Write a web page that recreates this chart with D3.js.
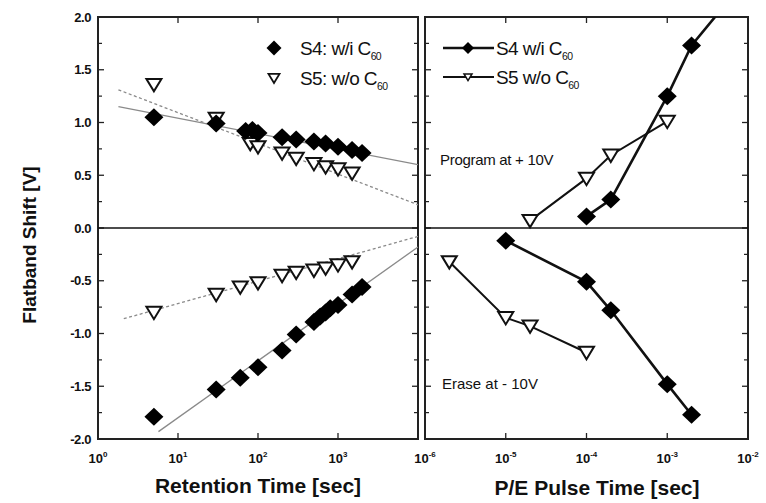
<!DOCTYPE html>
<html><head><meta charset="utf-8">
<script src="https://cdn.jsdelivr.net/npm/d3@7/dist/d3.min.js"></script>
<style>
body{margin:0;background:#fff;}
svg{display:block;font-family:"Liberation Sans",Arial,sans-serif;}
</style></head>
<body><svg id="c" width="766" height="503"></svg>
<script>
// ---- data ----
const retS4UpT = [5, 30, 70, 85, 100, 200, 300, 500, 700, 1000, 1500, 2000];
const retS4UpV = [1.05, 0.99, 0.92, 0.93, 0.90, 0.86, 0.84, 0.82, 0.80, 0.77, 0.74, 0.71];
const retS5UpT = [5, 30, 80, 100, 200, 300, 500, 700, 1000, 1500];
const retS5UpV = [1.36, 1.04, 0.80, 0.77, 0.71, 0.66, 0.61, 0.58, 0.56, 0.52];
const retS4LowT = [5, 30, 60, 100, 200, 300, 500, 600, 700, 800, 1000, 1500, 2000];
const retS4LowV = [-1.79, -1.53, -1.42, -1.32, -1.16, -1.01, -0.89, -0.84, -0.80, -0.76, -0.73, -0.63, -0.56];
const retS5LowT = [5, 30, 60, 100, 200, 300, 500, 700, 1000, 1500];
const retS5LowV = [-0.80, -0.63, -0.56, -0.52, -0.45, -0.42, -0.40, -0.38, -0.35, -0.32];
// fitted trend lines (end points)
const fitS4UpT = [1.8, 1e4], fitS4UpV = [1.15, 0.60];
const fitS5UpT = [1.8, 1e4], fitS5UpV = [1.31, 0.22];
const fitS4LowT = [5.7, 1e4], fitS4LowV = [-1.93, -0.18];
const fitS5LowT = [2.1, 1e4], fitS5LowV = [-0.86, -0.08];
// P/E pulse
const progS4T = [1e-4, 2e-4, 1e-3, 2e-3, 5e-3];
const progS4V = [0.11, 0.27, 1.25, 1.73, 2.10];
const progS5T = [2e-5, 1e-4, 2e-4, 1e-3];
const progS5V = [0.07, 0.47, 0.69, 1.01];
const eraseS4T = [1e-5, 1e-4, 2e-4, 1e-3, 2e-3];
const eraseS4V = [-0.12, -0.51, -0.78, -1.48, -1.77];
const eraseS5T = [2e-6, 1e-5, 2e-5, 1e-4];
const eraseS5V = [-0.32, -0.85, -0.93, -1.18];
// ticks
const yMajor = [2, 1.5, 1, 0.5, 0, -0.5, -1, -1.5, -2];
const yMajorLabels = ["2.0", "1.5", "1.0", "0.5", "0.0", "-0.5", "-1.0", "-1.5", "-2.0"];
const yMinor = [1.75, 1.25, 0.75, 0.25, -0.25, -0.75, -1.25, -1.75];
const xLTicks = [1, 10, 100, 1000, 10000];
const xLExp = ["0", "1", "2", "3"];
const xRTicks = [1e-6, 1e-5, 1e-4, 1e-3, 1e-2];
const xRExp = ["-6", "-5", "-4", "-3", "-2"];

// ---- layout ----
const svg = d3.select("#c");
const top_ = 17, bot = 439;
const L = {x0: 98, x1: 418}, R = {x0: 425, x1: 748};
const y = d3.scaleLinear([-2, 2], [bot, top_]);
const xL = d3.scaleLog([1, 1e4], [L.x0, L.x1]);
const xR = d3.scaleLog([1e-6, 1e-2], [R.x0, R.x1]);

const defs = svg.append("defs");
defs.append("clipPath").attr("id", "clipL").append("rect")
  .attr("x", L.x0).attr("y", top_).attr("width", L.x1 - L.x0).attr("height", bot - top_);
defs.append("clipPath").attr("id", "clipR").append("rect")
  .attr("x", R.x0).attr("y", top_).attr("width", R.x1 - R.x0).attr("height", bot - top_);

function diamond(w, h) { return `M0,${-h}L${w},0L0,${h}L${-w},0Z`; }
function triDown(s) { return `M${-s},${-s*0.75}L${s},${-s*0.75}L0,${s*0.9}Z`; }

function zip(t, v) { return t.map((d, i) => [d, v[i]]); }

// ---- frames + ticks ----
function panel(P, x, xt) {
  const g = svg.append("g");
  yMajor.forEach(v => {
    g.append("line").attr("x1", P.x0).attr("x2", P.x0 + 6).attr("y1", y(v)).attr("y2", y(v)).attr("stroke", "#222").attr("stroke-width", 1.3);
    g.append("line").attr("x1", P.x1).attr("x2", P.x1 - 6).attr("y1", y(v)).attr("y2", y(v)).attr("stroke", "#222").attr("stroke-width", 1.3);
  });
  yMinor.forEach(v => {
    g.append("line").attr("x1", P.x0).attr("x2", P.x0 + 4).attr("y1", y(v)).attr("y2", y(v)).attr("stroke", "#222").attr("stroke-width", 1.2);
    g.append("line").attr("x1", P.x1).attr("x2", P.x1 - 4).attr("y1", y(v)).attr("y2", y(v)).attr("stroke", "#222").attr("stroke-width", 1.2);
  });
  xt.forEach(t => {
    g.append("line").attr("x1", x(t)).attr("x2", x(t)).attr("y1", bot).attr("y2", bot - 6).attr("stroke", "#222").attr("stroke-width", 1.3);
    g.append("line").attr("x1", x(t)).attr("x2", x(t)).attr("y1", top_).attr("y2", top_ + 6).attr("stroke", "#222").attr("stroke-width", 1.3);
  });
  g.append("rect").attr("x", P.x0).attr("y", top_).attr("width", P.x1 - P.x0).attr("height", bot - top_)
    .attr("fill", "none").attr("stroke", "#222").attr("stroke-width", 2);
  g.append("line").attr("x1", P.x0).attr("x2", P.x1).attr("y1", y(0)).attr("y2", y(0)).attr("stroke", "#111").attr("stroke-width", 1.6);
}
panel(L, xL, xLTicks);
panel(R, xR, xRTicks);

// y tick labels
svg.append("g").selectAll("text").data(yMajor).join("text")
  .attr("x", L.x0 - 7).attr("y", d => y(d)).attr("dy", "0.35em").attr("text-anchor", "end")
  .attr("font-size", 13).attr("font-weight", "bold").attr("fill", "#111").attr("letter-spacing", -0.4)
  .text((d, i) => yMajorLabels[i]);

// x tick labels with superscripts
function xLabels(x, ticks, exps) {
  const g = svg.append("g");
  exps.forEach((e, i) => {
    const t = g.append("text").attr("x", x(ticks[i])).attr("y", 463).attr("text-anchor", "middle")
      .attr("font-size", 13).attr("font-weight", "bold").attr("fill", "#111");
    t.append("tspan").text("10");
    t.append("tspan").attr("dy", -6).attr("font-size", 8).text(e);
  });
}
xLabels(xL, xLTicks, xLExp);
xLabels(xR, xRTicks, xRExp);

// axis titles
svg.append("text").attr("x", 258).attr("y", 493).attr("text-anchor", "middle")
  .attr("font-size", 21).attr("font-weight", "bold").attr("fill", "#111").text("Retention Time [sec]");
svg.append("text").attr("x", 597).attr("y", 495).attr("text-anchor", "middle")
  .attr("font-size", 21).attr("font-weight", "bold").attr("fill", "#111").text("P/E Pulse Time [sec]");
svg.append("text").attr("transform", "translate(36,245) rotate(-90)").attr("text-anchor", "middle")
  .attr("font-size", 19).attr("font-weight", "bold").attr("fill", "#111").text("Flatband Shift [V]");

// ---- left panel content ----
const gl = svg.append("g").attr("clip-path", "url(#clipL)");
const lineL = d3.line().x(d => xL(d[0])).y(d => y(d[1]));
[[fitS4UpT, fitS4UpV, null], [fitS4LowT, fitS4LowV, null], [fitS5UpT, fitS5UpV, "3,2.5"], [fitS5LowT, fitS5LowV, "3,2.5"]]
  .forEach(([t, v, dash]) => {
    gl.append("path").attr("d", lineL(zip(t, v))).attr("fill", "none")
      .attr("stroke", "#8a8a8a").attr("stroke-width", 1.3).attr("stroke-dasharray", dash);
  });
[[retS5UpT, retS5UpV], [retS5LowT, retS5LowV]].forEach(([t, v]) => {
  gl.append("g").selectAll("path").data(zip(t, v)).join("path")
    .attr("transform", d => `translate(${xL(d[0])},${y(d[1])})`).attr("d", triDown(7.5))
    .attr("fill", "#fff").attr("stroke", "#111").attr("stroke-width", 2);
});
[[retS4UpT, retS4UpV], [retS4LowT, retS4LowV]].forEach(([t, v]) => {
  gl.append("g").selectAll("path").data(zip(t, v)).join("path")
    .attr("transform", d => `translate(${xL(d[0])},${y(d[1])})`).attr("d", diamond(9.5, 9))
    .attr("fill", "#000");
});

// ---- right panel content ----
const gr = svg.append("g").attr("clip-path", "url(#clipR)");
const lineR = d3.line().x(d => xR(d[0])).y(d => y(d[1]));
[[progS4T, progS4V, 2.6], [eraseS4T, eraseS4V, 2.6], [progS5T, progS5V, 2], [eraseS5T, eraseS5V, 2]].forEach(([t, v, w]) => {
  gr.append("path").attr("d", lineR(zip(t, v))).attr("fill", "none").attr("stroke", "#111").attr("stroke-width", w);
});
[[progS5T, progS5V], [eraseS5T, eraseS5V]].forEach(([t, v]) => {
  gr.append("g").selectAll("path").data(zip(t, v)).join("path")
    .attr("transform", d => `translate(${xR(d[0])},${y(d[1])})`).attr("d", triDown(7.5))
    .attr("fill", "#fff").attr("stroke", "#111").attr("stroke-width", 2);
});
[[progS4T, progS4V], [eraseS4T, eraseS4V]].forEach(([t, v]) => {
  gr.append("g").selectAll("path").data(zip(t, v)).join("path")
    .attr("transform", d => `translate(${xR(d[0])},${y(d[1])})`).attr("d", diamond(9.5, 9))
    .attr("fill", "#000");
});

// ---- legends ----
function legendText(g, x, yy, main, sub, size) {
  const t = g.append("text").attr("x", x).attr("y", yy).attr("dy", "0.35em")
    .attr("font-size", size).attr("fill", "#111").attr("letter-spacing", -0.6);
  t.append("tspan").text(main);
  t.append("tspan").attr("dy", 5).attr("font-size", size * 0.55).text(sub);
}
const lg = svg.append("g");
lg.append("path").attr("transform", "translate(274,48)").attr("d", diamond(7.5, 7.5)).attr("fill", "#000");
lg.append("path").attr("transform", "translate(274,78)").attr("d", triDown(5.5)).attr("fill", "#fff").attr("stroke", "#111").attr("stroke-width", 1.8);
legendText(lg, 300, 48, "S4: w/i C", "60", 19);
legendText(lg, 300, 78, "S5: w/o C", "60", 19);

const rg = svg.append("g");
rg.append("line").attr("x1", 443).attr("x2", 494).attr("y1", 48).attr("y2", 48).attr("stroke", "#111").attr("stroke-width", 2.6);
rg.append("path").attr("transform", "translate(468,48)").attr("d", diamond(6, 6)).attr("fill", "#000");
rg.append("line").attr("x1", 443).attr("x2", 494).attr("y1", 77).attr("y2", 77).attr("stroke", "#111").attr("stroke-width", 2);
rg.append("path").attr("transform", "translate(468,77)").attr("d", triDown(4)).attr("fill", "#fff").attr("stroke", "#111").attr("stroke-width", 1.5);
legendText(rg, 496, 48, "S4 w/i C", "60", 19);
legendText(rg, 496, 77, "S5 w/o C", "60", 19);

// annotations
svg.append("text").attr("x", 440).attr("y", 160).attr("dy", "0.35em").attr("font-size", 15).attr("fill", "#111")
  .attr("letter-spacing", -0.3).text("Program at + 10V");
svg.append("text").attr("x", 442).attr("y", 384).attr("dy", "0.35em").attr("font-size", 15).attr("fill", "#111")
  .text("Erase at - 10V");
</script></body></html>
